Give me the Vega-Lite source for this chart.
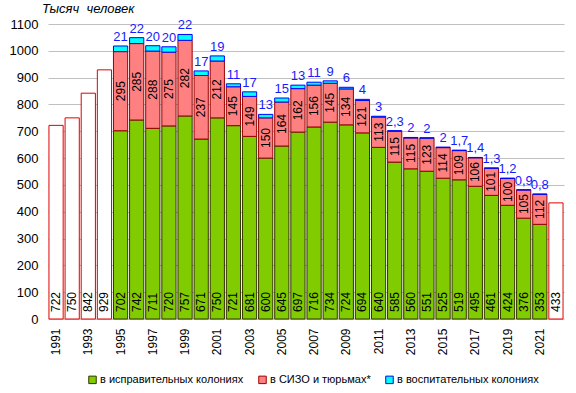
{
  "$schema": "https://vega.github.io/schema/vega-lite/v6.json",
  "width": 516,
  "height": 295,
  "autosize": {"type": "none"},
  "padding": {"left": 48, "top": 24, "right": 12, "bottom": 74},
  "title": {"text": "Тысяч\u00a0 человек", "anchor": "start", "frame": "group", "dx": -6, "offset": 2, "fontSize": 13, "fontStyle": "italic", "fontWeight": "normal", "color": "#000000"},
  "config": {
    "font": "Liberation Sans",
    "view": {"stroke": null},
    "locale": {"number": {"decimal": ",", "thousands": "", "grouping": [3], "currency": ["", ""]}},
    "axisY": {
      "title": null,
      "domain": false,
      "ticks": false,
      "grid": true,
      "gridColor": "#c0c0c0",
      "tickCount": 11,
      "labelOverlap": false,
      "labelFontSize": 13,
      "labelPadding": 10,
      "labelColor": "#000000"
    }
  },
  "datasets": {
    "totals": [
      {"year": 1991, "value": 722},
      {"year": 1992, "value": 750},
      {"year": 1993, "value": 842},
      {"year": 1994, "value": 929},
      {"year": 2022, "value": 433}
    ],
    "parts": [
      {"year": 1995, "cat": "в исправительных колониях", "value": 702},
      {"year": 1995, "cat": "в СИЗО и тюрьмах*", "value": 295},
      {"year": 1995, "cat": "в воспитательных колониях", "value": 21},
      {"year": 1996, "cat": "в исправительных колониях", "value": 742},
      {"year": 1996, "cat": "в СИЗО и тюрьмах*", "value": 285},
      {"year": 1996, "cat": "в воспитательных колониях", "value": 22},
      {"year": 1997, "cat": "в исправительных колониях", "value": 711},
      {"year": 1997, "cat": "в СИЗО и тюрьмах*", "value": 288},
      {"year": 1997, "cat": "в воспитательных колониях", "value": 20},
      {"year": 1998, "cat": "в исправительных колониях", "value": 720},
      {"year": 1998, "cat": "в СИЗО и тюрьмах*", "value": 275},
      {"year": 1998, "cat": "в воспитательных колониях", "value": 20},
      {"year": 1999, "cat": "в исправительных колониях", "value": 757},
      {"year": 1999, "cat": "в СИЗО и тюрьмах*", "value": 282},
      {"year": 1999, "cat": "в воспитательных колониях", "value": 22},
      {"year": 2000, "cat": "в исправительных колониях", "value": 671},
      {"year": 2000, "cat": "в СИЗО и тюрьмах*", "value": 237},
      {"year": 2000, "cat": "в воспитательных колониях", "value": 17},
      {"year": 2001, "cat": "в исправительных колониях", "value": 750},
      {"year": 2001, "cat": "в СИЗО и тюрьмах*", "value": 212},
      {"year": 2001, "cat": "в воспитательных колониях", "value": 19},
      {"year": 2002, "cat": "в исправительных колониях", "value": 721},
      {"year": 2002, "cat": "в СИЗО и тюрьмах*", "value": 145},
      {"year": 2002, "cat": "в воспитательных колониях", "value": 11},
      {"year": 2003, "cat": "в исправительных колониях", "value": 681},
      {"year": 2003, "cat": "в СИЗО и тюрьмах*", "value": 149},
      {"year": 2003, "cat": "в воспитательных колониях", "value": 17},
      {"year": 2004, "cat": "в исправительных колониях", "value": 600},
      {"year": 2004, "cat": "в СИЗО и тюрьмах*", "value": 150},
      {"year": 2004, "cat": "в воспитательных колониях", "value": 13},
      {"year": 2005, "cat": "в исправительных колониях", "value": 645},
      {"year": 2005, "cat": "в СИЗО и тюрьмах*", "value": 164},
      {"year": 2005, "cat": "в воспитательных колониях", "value": 15},
      {"year": 2006, "cat": "в исправительных колониях", "value": 697},
      {"year": 2006, "cat": "в СИЗО и тюрьмах*", "value": 162},
      {"year": 2006, "cat": "в воспитательных колониях", "value": 13},
      {"year": 2007, "cat": "в исправительных колониях", "value": 716},
      {"year": 2007, "cat": "в СИЗО и тюрьмах*", "value": 156},
      {"year": 2007, "cat": "в воспитательных колониях", "value": 11},
      {"year": 2008, "cat": "в исправительных колониях", "value": 734},
      {"year": 2008, "cat": "в СИЗО и тюрьмах*", "value": 145},
      {"year": 2008, "cat": "в воспитательных колониях", "value": 9},
      {"year": 2009, "cat": "в исправительных колониях", "value": 724},
      {"year": 2009, "cat": "в СИЗО и тюрьмах*", "value": 134},
      {"year": 2009, "cat": "в воспитательных колониях", "value": 6},
      {"year": 2010, "cat": "в исправительных колониях", "value": 694},
      {"year": 2010, "cat": "в СИЗО и тюрьмах*", "value": 121},
      {"year": 2010, "cat": "в воспитательных колониях", "value": 4},
      {"year": 2011, "cat": "в исправительных колониях", "value": 640},
      {"year": 2011, "cat": "в СИЗО и тюрьмах*", "value": 113},
      {"year": 2011, "cat": "в воспитательных колониях", "value": 3},
      {"year": 2012, "cat": "в исправительных колониях", "value": 585},
      {"year": 2012, "cat": "в СИЗО и тюрьмах*", "value": 115},
      {"year": 2012, "cat": "в воспитательных колониях", "value": 2.3},
      {"year": 2013, "cat": "в исправительных колониях", "value": 560},
      {"year": 2013, "cat": "в СИЗО и тюрьмах*", "value": 115},
      {"year": 2013, "cat": "в воспитательных колониях", "value": 2},
      {"year": 2014, "cat": "в исправительных колониях", "value": 551},
      {"year": 2014, "cat": "в СИЗО и тюрьмах*", "value": 123},
      {"year": 2014, "cat": "в воспитательных колониях", "value": 2},
      {"year": 2015, "cat": "в исправительных колониях", "value": 525},
      {"year": 2015, "cat": "в СИЗО и тюрьмах*", "value": 114},
      {"year": 2015, "cat": "в воспитательных колониях", "value": 2},
      {"year": 2016, "cat": "в исправительных колониях", "value": 519},
      {"year": 2016, "cat": "в СИЗО и тюрьмах*", "value": 109},
      {"year": 2016, "cat": "в воспитательных колониях", "value": 1.7},
      {"year": 2017, "cat": "в исправительных колониях", "value": 495},
      {"year": 2017, "cat": "в СИЗО и тюрьмах*", "value": 106},
      {"year": 2017, "cat": "в воспитательных колониях", "value": 1.4},
      {"year": 2018, "cat": "в исправительных колониях", "value": 461},
      {"year": 2018, "cat": "в СИЗО и тюрьмах*", "value": 101},
      {"year": 2018, "cat": "в воспитательных колониях", "value": 1.3},
      {"year": 2019, "cat": "в исправительных колониях", "value": 424},
      {"year": 2019, "cat": "в СИЗО и тюрьмах*", "value": 100},
      {"year": 2019, "cat": "в воспитательных колониях", "value": 1.2},
      {"year": 2020, "cat": "в исправительных колониях", "value": 376},
      {"year": 2020, "cat": "в СИЗО и тюрьмах*", "value": 105},
      {"year": 2020, "cat": "в воспитательных колониях", "value": 0.9},
      {"year": 2021, "cat": "в исправительных колониях", "value": 353},
      {"year": 2021, "cat": "в СИЗО и тюрьмах*", "value": 112},
      {"year": 2021, "cat": "в воспитательных колониях", "value": 0.8}
    ]
  },
  "encoding": {
    "x": {
      "field": "year",
      "type": "ordinal",
      "scale": {
        "domain": [1991, 1992, 1993, 1994, 1995, 1996, 1997, 1998, 1999, 2000, 2001, 2002, 2003, 2004, 2005, 2006, 2007, 2008, 2009, 2010, 2011, 2012, 2013, 2014, 2015, 2016, 2017, 2018, 2019, 2020, 2021, 2022],
        "paddingInner": 0.12,
        "paddingOuter": 0.06
      },
      "axis": {
        "title": null,
        "domain": false,
        "ticks": false,
        "grid": false,
        "labelAngle": -90,
        "labelFontSize": 12,
        "labelPadding": 9,
        "labelColor": "#000000",
        "labelOverlap": false,
        "values": [1991, 1993, 1995, 1997, 1999, 2001, 2003, 2005, 2007, 2009, 2011, 2013, 2015, 2017, 2019, 2021]
      }
    }
  },
  "layer": [
    {
      "data": {"name": "totals"},
      "mark": {"type": "bar", "fill": "#ffffff", "stroke": "#e00000", "strokeWidth": 1},
      "encoding": {
        "y": {
          "field": "value",
          "type": "quantitative",
          "scale": {"domain": [0, 1100], "nice": false}
        }
      }
    },
    {
      "data": {"name": "totals"},
      "mark": {"type": "text", "angle": 270, "align": "left", "baseline": "middle", "dx": 7, "fontSize": 12, "color": "#000000"},
      "encoding": {
        "y": {"datum": 0},
        "text": {"field": "value", "type": "quantitative", "format": "d"}
      }
    },
    {
      "data": {"name": "parts"},
      "mark": {"type": "bar", "strokeWidth": 1},
      "encoding": {
        "y": {"field": "value", "type": "quantitative", "stack": "zero"},
        "fill": {
          "field": "cat",
          "type": "nominal",
          "scale": {
            "domain": ["в исправительных колониях", "в СИЗО и тюрьмах*", "в воспитательных колониях"],
            "range": ["#80cc00", "#ff8080", "#00ffff"]
          },
          "legend": {
            "title": null,
            "orient": "none",
            "legendX": 39,
            "legendY": 350,
            "direction": "horizontal",
            "symbolType": "square",
            "symbolSize": 56,
            "symbolStrokeWidth": 1,
            "symbolOffset": 0,
            "labelOffset": 2,
            "labelFontSize": 11,
            "labelColor": "#000000",
            "columnPadding": 12
          }
        },
        "stroke": {
          "field": "cat",
          "type": "nominal",
          "scale": {
            "domain": ["в исправительных колониях", "в СИЗО и тюрьмах*", "в воспитательных колониях"],
            "range": ["#333300", "#990000", "#0000ff"]
          }
        },
        "order": {"field": "value", "type": "quantitative", "sort": "descending"}
      }
    },
    {
      "data": {"name": "parts"},
      "transform": [{"filter": {"field": "cat", "equal": "в исправительных колониях"}}],
      "mark": {"type": "text", "angle": 270, "align": "left", "baseline": "middle", "dx": 7, "fontSize": 12, "color": "#000000"},
      "encoding": {
        "y": {"datum": 0},
        "text": {"field": "value", "type": "quantitative", "format": "d"}
      }
    },
    {
      "data": {"name": "parts"},
      "mark": {"type": "text", "angle": 270, "align": "center", "baseline": "middle", "fontSize": 12, "color": "#000000"},
      "encoding": {
        "y": {"field": "value", "type": "quantitative", "stack": "zero", "bandPosition": 0.5},
        "detail": {"field": "cat", "type": "nominal"},
        "order": {"field": "value", "type": "quantitative", "sort": "descending"},
        "text": {
          "condition": {"test": "datum.cat === 'в СИЗО и тюрьмах*'", "field": "value", "type": "quantitative", "format": "d"},
          "value": ""
        }
      }
    },
    {
      "data": {"name": "parts"},
      "mark": {"type": "text", "align": "center", "baseline": "bottom", "dy": -2, "fontSize": 13, "color": "#1a1aff"},
      "encoding": {
        "y": {"field": "value", "type": "quantitative", "stack": "zero"},
        "detail": {"field": "cat", "type": "nominal"},
        "order": {"field": "value", "type": "quantitative", "sort": "descending"},
        "text": {
          "condition": {"test": "datum.cat === 'в воспитательных колониях'", "field": "value", "type": "quantitative", "format": "~g"},
          "value": ""
        }
      }
    }
  ]
}
